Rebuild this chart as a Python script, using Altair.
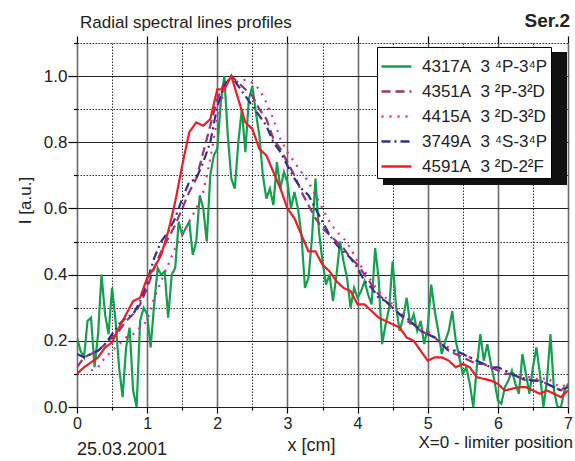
import altair as alt
import pandas as pd

FONT = "Liberation Sans"
NB = "\u00a0"

# ---- series names (legend order) ----
SERIES = [f"4317A{NB} 3 \u2074P-3\u2074P", f"4351A{NB} 3 \u00b2P-3\u00b2D", f"4415A{NB} 3 \u00b2D-3\u00b2D",
          f"3749A{NB} 3 \u2074S-3\u2074P", f"4591A{NB} 3 \u00b2D-2\u00b2F"]
COLORS = ["#13a04d", "#9a3372", "#f2229e", "#2e3192", "#ee1c25"]
DASHES = [[1, 0], [9, 5], [2, 6], [9, 4, 2, 4], [1, 0]]

# ---- x sampling ----
x_fine = [round(i * 0.05, 2) for i in range(141)]
x_coarse = [round(i * 0.1, 1) for i in range(71)]
x_mag = x_coarse[2:]

# ---- values ----
y_green = [
    0.21, 0.17, 0.15, 0.26, 0.27,
    0.12, 0.22, 0.40, 0.28, 0.22,
    0.36, 0.26, 0.12, 0.03, 0.18,
    0.24, 0.05, 0.00, 0.26, 0.30,
    0.28, 0.18, 0.31, 0.42, 0.40,
    0.41, 0.27, 0.40, 0.42, 0.56,
    0.52, 0.54, 0.56, 0.46, 0.50,
    0.64, 0.60, 0.50, 0.70, 0.76,
    0.78, 0.92, 1.00, 0.82, 0.69,
    0.66, 0.80, 0.90, 0.77, 0.93,
    0.97, 0.89, 0.82, 0.70, 0.63,
    0.66, 0.61, 0.74, 0.66, 0.71,
    0.68, 0.60, 0.65, 0.60, 0.52,
    0.36, 0.39, 0.51, 0.69, 0.53,
    0.44, 0.37, 0.40, 0.32, 0.40,
    0.50, 0.44, 0.39, 0.30, 0.36,
    0.33, 0.35, 0.38, 0.34, 0.31,
    0.48, 0.39, 0.19, 0.25, 0.30,
    0.44, 0.30, 0.23, 0.27, 0.33,
    0.25, 0.28, 0.23, 0.26, 0.19,
    0.24, 0.37, 0.29, 0.23, 0.16,
    0.20, 0.23, 0.29, 0.20, 0.15,
    0.10, 0.12, 0.07, 0.00, 0.12,
    0.22, 0.14, 0.19, 0.13, 0.08,
    0.02, 0.01, 0.06, 0.08, 0.11,
    0.07, 0.04, 0.16, 0.10, 0.04,
    0.12, 0.18, 0.10, 0.00, 0.08,
    0.22, 0.05, 0.00, 0.00, 0.05,
    0.07,
]
y_purple = [
    0.12, 0.15, 0.16, 0.17, 0.19, 0.21, 0.23, 0.26, 0.28, 0.31,
    0.36, 0.42, 0.47, 0.51, 0.55, 0.60, 0.65, 0.69, 0.77, 0.85,
    0.93, 0.98, 1.00, 0.98, 0.96, 0.94, 0.90, 0.87, 0.81, 0.78,
    0.74, 0.70, 0.65, 0.61, 0.57, 0.54, 0.52, 0.50, 0.48, 0.45,
    0.43, 0.40, 0.37, 0.34, 0.32, 0.30, 0.28, 0.26, 0.25, 0.23,
    0.22, 0.21, 0.19, 0.17, 0.16, 0.15, 0.14, 0.13, 0.13, 0.12,
    0.11, 0.10, 0.10, 0.09, 0.08, 0.08, 0.08, 0.07, 0.06, 0.05,
    0.07,
]
y_magenta = [
    0.11, 0.12, 0.15, 0.17, 0.19, 0.21, 0.22, 0.24,
    0.26, 0.33, 0.38, 0.43, 0.48, 0.52, 0.56, 0.60, 0.65, 0.75,
    0.87, 0.96, 1.00, 0.98, 0.99, 0.98, 0.96, 0.92, 0.87, 0.81,
    0.77, 0.74, 0.71, 0.68, 0.64, 0.60, 0.56, 0.53, 0.51, 0.48,
    0.44, 0.41, 0.38, 0.35, 0.33, 0.31, 0.29, 0.27, 0.25, 0.24,
    0.23, 0.21, 0.19, 0.18, 0.17, 0.16, 0.15, 0.14, 0.13, 0.12,
    0.12, 0.11, 0.10, 0.10, 0.09, 0.09, 0.08, 0.09, 0.07, 0.06,
    0.07,
]
y_blue = [
    0.16, 0.15, 0.16, 0.17, 0.19, 0.22, 0.25, 0.27, 0.28, 0.32,
    0.38, 0.45, 0.50, 0.53, 0.57, 0.63, 0.68, 0.69, 0.74, 0.80,
    0.91, 0.97, 1.00, 0.97, 0.94, 0.91, 0.88, 0.85, 0.80, 0.77,
    0.73, 0.69, 0.66, 0.64, 0.60, 0.56, 0.52, 0.49, 0.47, 0.45,
    0.42, 0.38, 0.36, 0.33, 0.32, 0.30, 0.28, 0.27, 0.25, 0.23,
    0.22, 0.21, 0.19, 0.17, 0.17, 0.16, 0.15, 0.14, 0.13, 0.12,
    0.12, 0.11, 0.10, 0.09, 0.085, 0.08, 0.08, 0.07, 0.06, 0.05,
    0.06,
]
y_red = [
    0.10, 0.12, 0.135, 0.15, 0.18, 0.195, 0.24, 0.28, 0.32, 0.33,
    0.39, 0.42, 0.46, 0.53, 0.62, 0.73, 0.83, 0.86, 0.85, 0.87,
    0.96, 0.96, 1.00, 0.93, 0.86, 0.84, 0.78, 0.76, 0.71, 0.66,
    0.60, 0.57, 0.52, 0.47, 0.47, 0.43, 0.41, 0.38, 0.36, 0.35,
    0.31, 0.31, 0.29, 0.27, 0.26, 0.25, 0.24, 0.21, 0.20, 0.17,
    0.14, 0.15, 0.15, 0.14, 0.12, 0.13, 0.12, 0.09, 0.085, 0.08,
    0.07, 0.05, 0.055, 0.06, 0.06, 0.05, 0.04, 0.05, 0.04, 0.03,
    0.05,
]

# draw order: green, purple, magenta, blue, red (red on top)
parts = [
    (SERIES[0], x_fine, y_green),
    (SERIES[1], x_coarse, y_purple),
    (SERIES[2], x_mag, y_magenta),
    (SERIES[3], x_coarse, y_blue),
    (SERIES[4], x_coarse, y_red),
]
rows = []
for name, xs, ys in parts:
    for xv, yv in zip(xs, ys):
        rows.append({"series": name, "x": xv, "y": yv})
df = pd.DataFrame(rows)

W, H = 491, 364

is_int = "datum.value % 1 == 0"
is_major_y = "abs(datum.value*5 - round(datum.value*5)) < 0.001"

x_axis = alt.Axis(
    values=[i * 0.5 for i in range(15)],
    labelExpr=f"{is_int} ? format(datum.value, 'd') : ''",
    tickSize={"condition": {"test": is_int, "value": 6}, "value": 3},
    tickColor="black", tickWidth=1.2,
    gridColor={"condition": {"test": is_int, "value": "#6a6a6a"}, "value": "#333333"},
    gridDash={"condition": {"test": is_int, "value": []}, "value": [1.5, 1.5]},
    gridWidth={"condition": {"test": is_int, "value": 1.6}, "value": 1},
    domain=False, labelPadding=2, labelFontSize=16, labelFont=FONT,
    labelColor="#222222", labelFlush=False,
    title="x [cm]", titleX=234, titleY=43, titleAlign="center",
    titleBaseline="alphabetic", titleFontSize=18, titleFont=FONT,
    titleFontWeight="normal", titleColor="#222222",
)
y_axis = alt.Axis(
    values=[round(i * 0.1, 1) for i in range(12)],
    labelExpr=f"{is_major_y} ? format(datum.value, '.1f') : ''",
    tickSize={"condition": {"test": is_major_y, "value": 9}, "value": 3.5},
    tickColor="black", tickWidth=1.2,
    gridColor={"condition": {"test": is_major_y, "value": "#222222"}, "value": "#333333"},
    gridDash={"condition": {"test": is_major_y, "value": []}, "value": [1.5, 1.5]},
    gridWidth={"condition": {"test": is_major_y, "value": 1.2}, "value": 1},
    domain=False, labelPadding=1, labelFontSize=17, labelFont=FONT,
    labelColor="#222222", labelFlush=False,
    title="I [a.u.]", titleX=-52, titleY=157, titleAngle=-90, titleAlign="center",
    titleBaseline="middle", titleFontSize=17, titleFont=FONT,
    titleFontWeight="normal", titleColor="#222222",
)

legend = alt.Legend(
    title=None, orient="none", legendX=300, legendY=4,
    fillColor="white", strokeColor="black", padding=3,
    symbolType="stroke", symbolSize=900, symbolStrokeWidth=2.5,
    labelFontSize=17, labelFont=FONT, labelColor="#222222",
    labelOffset=9, labelLimit=300, rowPadding=-9,
)

lines = alt.Chart(df).mark_line(strokeWidth=2.2, clip=True).encode(
    x=alt.X("x:Q", scale=alt.Scale(domain=[0, 7], nice=False, zero=False), axis=x_axis),
    y=alt.Y("y:Q", scale=alt.Scale(domain=[0, 1.1], nice=False), axis=y_axis),
    color=alt.Color("series:N", scale=alt.Scale(domain=SERIES, range=COLORS), legend=legend),
    strokeDash=alt.StrokeDash("series:N", scale=alt.Scale(domain=SERIES, range=DASHES), legend=legend),
)

# top axis with outward ticks at integers
top = alt.Chart(pd.DataFrame({"x": [0.0, 7.0]})).mark_point(opacity=0).encode(
    x=alt.X("x:Q", axis=alt.Axis(orient="top", values=list(range(8)), labels=False,
                                  tickSize=7, tickColor="black", tickWidth=1.2,
                                  grid=False, domain=False, title="")),
    y=alt.value(0),
)

# legend shadow
shadow = alt.Chart(pd.DataFrame({"k": [0]})).mark_rect(color="#111111").encode(
    x=alt.value(306), x2=alt.value(490), y=alt.value(9), y2=alt.value(142),
)

def label(txt, xpos, ypos, size, align="left", weight="normal"):
    return alt.Chart(pd.DataFrame({"t": [txt]})).mark_text(
        align=align, baseline="alphabetic", fontSize=size, font=FONT,
        fontWeight=weight, color="#222222",
    ).encode(text="t:N", x=alt.value(xpos), y=alt.value(ypos))

title_t = label("Radial spectral lines profiles", 3, -15, 17)
ser_t = label("Ser.2", 493, -16, 19, align="right", weight="bold")
date_t = label("25.03.2001", 0, 412, 18)
lim_t = label("X=0 - limiter position", 496, 405, 17, align="right")

chart = alt.layer(lines, top, shadow, title_t, ser_t, date_t, lim_t).resolve_axis(
    x="independent"
).properties(
    width=W, height=H,
    padding={"left": 77, "top": 43, "right": 7, "bottom": 54},
    autosize=alt.AutoSizeParams(type="none"),
).configure_view(stroke="black", strokeWidth=1.3).configure(background="white")

chart.save("out.html", embed_options={"renderer": "svg", "actions": False})
